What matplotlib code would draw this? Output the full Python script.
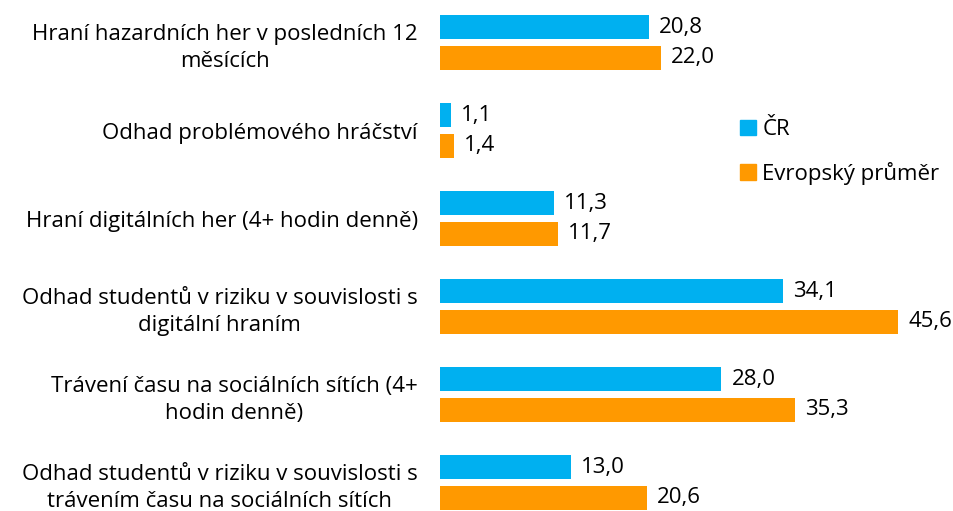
import numpy as np
import matplotlib.pyplot as plt
from matplotlib.patches import Patch

plt.rcParams['font.family'] = ['Open Sans', 'DejaVu Sans']

categories = [
    'Hraní hazardních her v posledních 12\nměsících',
    'Odhad problémového hráčství',
    'Hraní digitálních her (4+ hodin denně)',
    'Odhad studentů v riziku v souvislosti s\ndigitální hraním',
    'Trávení času na sociálních sítích (4+\nhodin denně)',
    'Odhad studentů v riziku v souvislosti s\ntrávením času na sociálních sítích',
]
cr_values = [20.8, 1.1, 11.3, 34.1, 28.0, 13.0]
eu_values = [22.0, 1.4, 11.7, 45.6, 35.3, 20.6]
series_labels = ['ČR', 'Evropský průměr']

blue = '#00B0F0'
orange = '#FF9900'
fs = 16

fig = plt.figure(figsize=(9.54, 5.11), dpi=100)
ax = fig.add_axes([440 / 954, 0, 514 / 954, 1])

y = np.arange(len(categories))
off = 0.176
h = 0.273
ax.barh(y - off, cr_values, height=h, color=blue)
ax.barh(y + off, eu_values, height=h, color=orange)

for yi, v in zip(y - off, cr_values):
    ax.text(v + 1.0, yi, f'{v:.1f}'.replace('.', ','), va='center', ha='left', fontsize=fs)
for yi, v in zip(y + off, eu_values):
    ax.text(v + 1.0, yi, f'{v:.1f}'.replace('.', ','), va='center', ha='left', fontsize=fs)

ax.set_xlim(0, 514 / 10.05)
ax.set_ylim((511 - 42.5) / 88, -42.5 / 88)
ax.set_yticks(y)
ax.set_yticklabels(categories, fontsize=fs, multialignment='center', linespacing=1.4)
ax.tick_params(axis='y', length=0, pad=16)
ax.set_xticks([])
for s in ax.spines.values():
    s.set_visible(False)

handles = [Patch(color=blue), Patch(color=orange)]
ax.legend(handles, series_labels, loc='center left', bbox_to_anchor=(300 / 514, 1 - 152 / 511),
          frameon=False, fontsize=fs, handlelength=0.7, handleheight=0.7,
          handletextpad=0.3, labelspacing=0.95, borderpad=0, borderaxespad=0)

fig.savefig('out.png', dpi=100)
